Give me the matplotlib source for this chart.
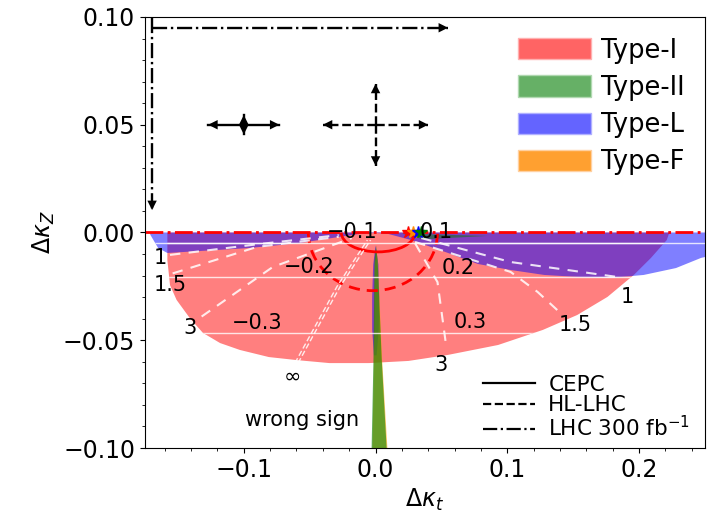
import matplotlib
matplotlib.use("Agg")
from matplotlib import pyplot as plt
from matplotlib.patches import Arc, Patch
from matplotlib.lines import Line2D
from matplotlib.ticker import AutoMinorLocator, FuncFormatter

# ---- regions (data coordinates) ----
type1_x = [-0.158, -0.158, -0.156, -0.151, -0.141, -0.131, -0.118, -0.103, -0.081, -0.060,
           -0.035, -0.005, 0.025, 0.055, 0.093, 0.127, 0.153, 0.176, 0.196, 0.209, 0.221, 0.223]
type1_y = [0.0, -0.0128, -0.0244, -0.0313, -0.0397, -0.0466, -0.0513, -0.0545, -0.0578, -0.0592,
           -0.0606, -0.0606, -0.0596, -0.0568, -0.0522, -0.0452, -0.0383, -0.0299, -0.0197, -0.0118,
           -0.0035, 0.0]

typeL_x = [-0.171, 0.26, 0.26, 0.247, 0.228, 0.2035, 0.178, 0.153, 0.128, 0.1025, 0.0776, 0.055,
           0.027, 0.0098, 0.0, -0.0128, -0.028, -0.058, -0.0957, -0.1334, -0.158, -0.165, -0.171]
typeL_y = [0.0, 0.0, -0.010, -0.0118, -0.0165, -0.0197, -0.0211, -0.0206, -0.0197, -0.0174,
           -0.0146, -0.0095, -0.0035, -0.0007, -0.0002, -0.0007, -0.0021, -0.0049, -0.0072,
           -0.0086, -0.0095, -0.0072, -0.001]
typeL_sliver_x = [0.0, 0.0022, 0.0028, 0.0024, 0.0008, -0.0012, -0.0026, -0.0026, -0.0018, 0.0]
typeL_sliver_y = [-0.006, -0.015, -0.030, -0.045, -0.057, -0.057, -0.045, -0.030, -0.015, -0.006]

type2_x = [0.0004, 0.0016, 0.0047, 0.0084, 0.0090, -0.0036, -0.0030, -0.0016, -0.0008]
type2_y = [-0.006, -0.013, -0.059, -0.100, -0.110, -0.110, -0.100, -0.059, -0.013]
type2_wedge_x = [0.020, 0.085, 0.036]
type2_wedge_y = [-0.0005, -0.0016, -0.0032]

typeF_x = [0.0006, 0.0019, 0.0050, 0.0090, 0.0096, -0.0030, -0.0024, -0.0012, -0.0005]
typeF_y = [-0.008, -0.015, -0.059, -0.100, -0.110, -0.110, -0.100, -0.059, -0.015]

best_fit_x = [0.025, 0.0286, 0.0324, 0.0347]
best_fit_c = ["red", "darkorange", "blue", "green"]

stripe_y = [-0.005, -0.0205, -0.0465]

# tan(beta) contours (white dashed)
tanb_x = [[-0.156, -0.090, -0.028], [-0.154, -0.090, -0.028], [-0.132, -0.078, -0.018],
          [0.0347, 0.1025, 0.183], [0.030, 0.1025, 0.123, 0.142], [0.030, 0.047, 0.0535]]
tanb_y = [[-0.0104, -0.0055, -0.0012], [-0.019, -0.0067, -0.002], [-0.039, -0.016, -0.0026],
          [-0.0026, -0.0137, -0.0206], [-0.0044, -0.0183, -0.0276, -0.0383], [-0.005, -0.023, -0.0522]]
tanb_inf_x = [-0.060, -0.028, -0.005]
tanb_inf_y = [-0.0606, -0.025, -0.0035]

labels = ["1", "1.5", "3", "\u221e", "\u22120.1", "\u22120.2", "\u22120.3", "0.1", "0.2", "0.3",
          "1", "1.5", "3", "wrong sign"]
label_x = [-0.1635, -0.156, -0.141, -0.063, -0.018, -0.0505, -0.0897, 0.046, 0.0625, 0.072,
           0.1907, 0.1515, 0.050, -0.056]
label_y = [-0.0118, -0.0244, -0.0443, -0.067, 0.0, -0.016, -0.042, 0.0, -0.0165, -0.0415,
           -0.030, -0.043, -0.0615, -0.087]

# precision projections: (centre, half widths)
cepc_c, cepc_err = (-0.1, 0.05), (0.027, 0.0045)
hllhc_c, hllhc_err = (0.0, 0.05), (0.04, 0.019)
lhc_corner, lhc_ends = (-0.1696, 0.095), (0.055, 0.0104)

# red half ellipses in the kappa_Z < 0 plane: centre, width, height
cepc_ell = (0.002, 0.0, 0.056, 0.018)
hllhc_ell = (-0.002, 0.0, 0.098, 0.054)


def arrow(ax, start, end, ls):
    ax.plot([start[0], end[0]], [start[1], end[1]], color="k", ls=ls, lw=1.7)
    ax.annotate("", xy=end, xytext=start,
                arrowprops=dict(arrowstyle="-|>", color="k", lw=0, mutation_scale=17,
                                shrinkA=0, shrinkB=0))


fig = plt.figure(figsize=(7.27, 5.13), dpi=100)
ax = fig.add_axes([0.1994, 0.1267, 0.7703, 0.8402])

p_red = ax.fill(type1_x, type1_y, color="red", alpha=0.5, lw=0)[0]
p_blue = ax.fill(typeL_x, typeL_y, color="blue", alpha=0.5, lw=0)[0]
ax.fill(typeL_sliver_x, typeL_sliver_y, color="blue", alpha=0.5, lw=0)
ax.fill(typeF_x, typeF_y, color="orange", alpha=0.6, lw=0)
ax.fill(type2_x, type2_y, color="green", alpha=0.6, lw=0)
ax.fill(type2_wedge_x, type2_wedge_y, color="green", alpha=0.5, lw=0)

for y in stripe_y:
    for p in (p_red, p_blue):
        ln = ax.axhline(y, color="white", lw=1.0, alpha=0.8)
        ln.set_clip_path(p)

for xs, ys in zip(tanb_x, tanb_y):
    ax.plot(xs, ys, color="white", ls="--", lw=1.5, alpha=0.85, dashes=(5, 4))
for dx in (-0.0012, 0.0012):
    ax.plot([x + dx for x in tanb_inf_x], tanb_inf_y, color="white", ls="--", lw=1.0,
            alpha=0.85, dashes=(4, 2))

ax.axhline(0.0, color="red", ls="-.", lw=2)
cx, cy, w, h = cepc_ell
ax.add_patch(Arc((cx, cy), w, h, theta1=180, theta2=360, color="red", lw=2))
cx, cy, w, h = hllhc_ell
ax.add_patch(Arc((cx, cy), w, h, theta1=180, theta2=360, color="red", lw=2, ls=(0, (4, 2.5))))

for x, c in zip(best_fit_x, best_fit_c):
    ax.plot(x, 0.0, marker="*", color=c, ms=9, lw=0)

# arrows
for (c, err, ls) in ((cepc_c, cepc_err, "-"), (hllhc_c, hllhc_err, "--")):
    for sx in (-1, 1):
        arrow(ax, c, (c[0] + sx * err[0], c[1]), ls)
    for sy in (-1, 1):
        arrow(ax, c, (c[0], c[1] + sy * err[1]), ls)
arrow(ax, (lhc_corner[0], lhc_corner[1]), (lhc_ends[0], lhc_corner[1]), "-.")
arrow(ax, (lhc_corner[0], 0.0995), (lhc_corner[0], lhc_ends[1]), "-.")

for t, x, y in zip(labels, label_x, label_y):
    ax.text(x, y, t, fontsize=15, ha="center", va="center")

ax.set_xlim(-0.175, 0.25)
ax.set_ylim(-0.1, 0.1)
ax.set_xticks([-0.1, 0.0, 0.1, 0.2])
ax.set_yticks([-0.1, -0.05, 0.0, 0.05, 0.1])
ax.xaxis.set_major_formatter(FuncFormatter(lambda v, p: f"{v:.1f}".replace("-", "\u2212")))
ax.yaxis.set_major_formatter(FuncFormatter(lambda v, p: f"{v:.2f}".replace("-", "\u2212")))
ax.xaxis.set_minor_locator(AutoMinorLocator())
ax.yaxis.set_minor_locator(AutoMinorLocator())
ax.tick_params(labelsize=17)
ax.set_xlabel(r"$\Delta\kappa_t$", fontsize=17)
ax.set_ylabel(r"$\Delta\kappa_Z$", fontsize=17)

type_handles = [Patch(facecolor="#ff6464", edgecolor="#ffb0b0", label="Type-I"),
                Patch(facecolor="#66b066", edgecolor="#b0d8b0", label="Type-II"),
                Patch(facecolor="#6464ff", edgecolor="#b0b0ff", label="Type-L"),
                Patch(facecolor="#ffa030", edgecolor="#ffd0a0", label="Type-F")]
leg1 = ax.legend(handles=type_handles, loc="upper right", frameon=False, fontsize=18.5,
                 handlelength=2.85, handleheight=0.9, labelspacing=0.44, handletextpad=0.38,
                 borderaxespad=0.4)
ax.add_artist(leg1)

line_handles = [Line2D([], [], color="k", ls="-", lw=1.6, label="CEPC"),
                Line2D([], [], color="k", ls="--", lw=1.6, label="HL-LHC"),
                Line2D([], [], color="k", ls="-.", lw=1.6, label=r"LHC 300 fb$^{-1}$")]
ax.legend(handles=line_handles, loc="lower right", bbox_to_anchor=(0.993, -0.008),
          frameon=False, fontsize=15.5, handlelength=2.45, labelspacing=0.02,
          handletextpad=0.6, borderaxespad=0.1)

fig.savefig("out.png", dpi=100)
